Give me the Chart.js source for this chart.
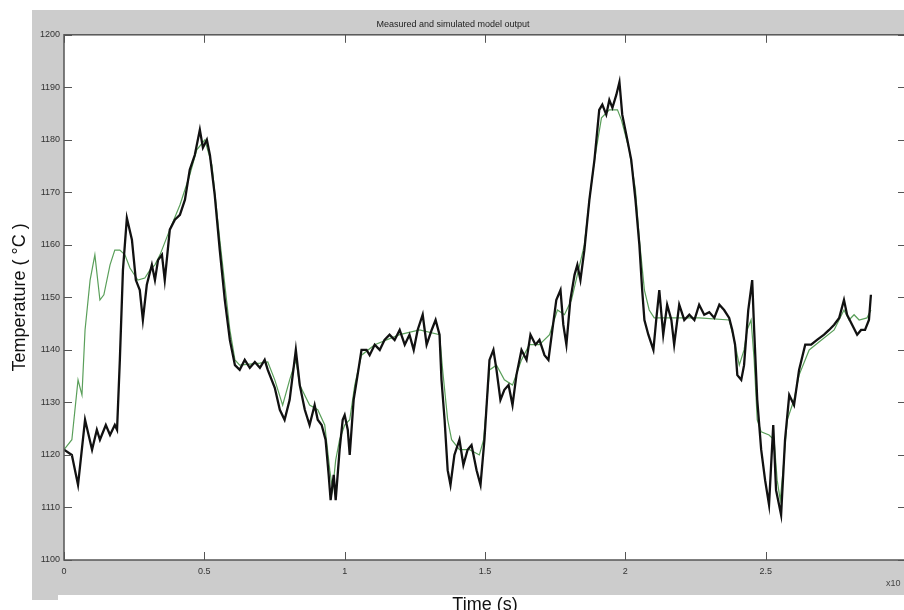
<!DOCTYPE html>
<html>
<head>
<meta charset="utf-8">
<script src="https://cdn.jsdelivr.net/npm/chart.js@4/dist/chart.umd.min.js"></script>
<style>
html,body{margin:0;padding:0;background:#fff;overflow:hidden;}
#wrap{position:relative;width:904px;height:610px;overflow:hidden;}
#c{position:absolute;left:0;top:0;}
</style>
</head>
<body>
<div id="wrap"><canvas id="c" width="912" height="620" style="width:912px;height:620px"></canvas></div>
<script>
// Time axis values are in units of 10^4 s
const measuredTime = [0, 0.028, 0.050, 0.075, 0.100, 0.117, 0.128, 0.149, 0.164, 0.181, 0.189, 0.199, 0.210, 0.224, 0.242, 0.256, 0.270, 0.281, 0.295, 0.313, 0.324, 0.335, 0.349, 0.359, 0.377, 0.395, 0.413, 0.431, 0.448, 0.466, 0.484, 0.495, 0.509, 0.520, 0.537, 0.555, 0.573, 0.591, 0.609, 0.626, 0.644, 0.662, 0.680, 0.698, 0.715, 0.726, 0.751, 0.769, 0.786, 0.804, 0.826, 0.840, 0.858, 0.875, 0.893, 0.904, 0.918, 0.932, 0.943, 0.950, 0.961, 0.968, 0.982, 0.993, 1.000, 1.011, 1.018, 1.032, 1.046, 1.060, 1.078, 1.089, 1.107, 1.125, 1.142, 1.160, 1.178, 1.196, 1.214, 1.231, 1.246, 1.260, 1.278, 1.292, 1.310, 1.324, 1.338, 1.345, 1.356, 1.367, 1.377, 1.391, 1.409, 1.423, 1.438, 1.452, 1.470, 1.484, 1.498, 1.516, 1.530, 1.541, 1.555, 1.569, 1.584, 1.598, 1.612, 1.630, 1.648, 1.662, 1.680, 1.694, 1.712, 1.726, 1.740, 1.754, 1.769, 1.779, 1.790, 1.804, 1.819, 1.829, 1.840, 1.854, 1.872, 1.890, 1.907, 1.918, 1.932, 1.943, 1.954, 1.968, 1.979, 1.989, 2.007, 2.021, 2.036, 2.050, 2.060, 2.068, 2.082, 2.100, 2.110, 2.121, 2.135, 2.149, 2.164, 2.174, 2.192, 2.210, 2.228, 2.246, 2.263, 2.281, 2.299, 2.317, 2.335, 2.352, 2.370, 2.381, 2.391, 2.399, 2.413, 2.423, 2.438, 2.452, 2.459, 2.470, 2.484, 2.498, 2.512, 2.527, 2.537, 2.555, 2.569, 2.584, 2.601, 2.619, 2.641, 2.662, 2.683, 2.708, 2.726, 2.744, 2.762, 2.779, 2.790, 2.808, 2.826, 2.840, 2.854, 2.868, 2.875];
const measuredTemp = [1121.0, 1120.0, 1114.3, 1126.7, 1121.0, 1124.8, 1122.9, 1125.7, 1123.8, 1125.7, 1124.8, 1138.1, 1155.2, 1165.1, 1161.0, 1153.3, 1151.4, 1145.7, 1152.4, 1156.2, 1153.3, 1157.1, 1158.1, 1153.3, 1162.9, 1164.8, 1165.7, 1168.6, 1174.3, 1177.1, 1181.9, 1178.5, 1180.0, 1177.1, 1169.5, 1159.0, 1149.5, 1141.9, 1137.1, 1136.2, 1138.1, 1136.6, 1137.7, 1136.6, 1138.1, 1136.2, 1132.8, 1128.6, 1126.7, 1130.5, 1140.0, 1133.3, 1128.6, 1125.7, 1129.5, 1126.7, 1125.7, 1122.9, 1116.2, 1111.4, 1116.2, 1111.4, 1121.0, 1126.7, 1127.6, 1124.8, 1120.0, 1130.5, 1135.2, 1140.0, 1140.0, 1139.0, 1141.0, 1140.0, 1141.9, 1142.9, 1141.9, 1143.8, 1141.0, 1142.9, 1140.0, 1143.8, 1146.7, 1141.0, 1143.8, 1145.7, 1142.9, 1134.3, 1126.7, 1117.1, 1114.3, 1120.0, 1122.9, 1118.1, 1121.0, 1121.9, 1117.1, 1114.3, 1122.9, 1138.1, 1140.0, 1136.2, 1130.5, 1132.4, 1133.3, 1129.5, 1135.2, 1140.0, 1138.1, 1142.9, 1141.0, 1141.9, 1139.0, 1138.1, 1143.8, 1149.5, 1151.4, 1144.8, 1141.0, 1149.5, 1154.3, 1156.2, 1153.3, 1159.0, 1168.6, 1176.2, 1185.7, 1186.7, 1184.8, 1187.6, 1186.1, 1188.6, 1191.0, 1184.8, 1180.0, 1176.2, 1168.6, 1160.0, 1151.4, 1145.7, 1142.9, 1140.0, 1145.7, 1151.4, 1142.9, 1148.6, 1145.7, 1141.0, 1148.6, 1145.7, 1146.7, 1145.7, 1148.6, 1146.7, 1147.2, 1146.1, 1148.6, 1147.6, 1146.1, 1143.8, 1141.0, 1135.2, 1134.3, 1137.1, 1147.6, 1153.3, 1143.8, 1130.5, 1121.0, 1115.2, 1110.5, 1125.7, 1113.3, 1108.6, 1122.9, 1131.4, 1129.5, 1136.2, 1141.0, 1141.0, 1141.9, 1142.9, 1143.8, 1144.8, 1146.1, 1149.5, 1146.7, 1144.8, 1142.9, 1143.8, 1143.8, 1145.7, 1150.5];

const simulatedTime = [0, 0.028, 0.050, 0.064, 0.075, 0.093, 0.110, 0.128, 0.142, 0.164, 0.181, 0.199, 0.217, 0.235, 0.263, 0.288, 0.306, 0.324, 0.342, 0.377, 0.413, 0.448, 0.473, 0.502, 0.527, 0.555, 0.591, 0.609, 0.626, 0.698, 0.726, 0.751, 0.779, 0.804, 0.826, 0.840, 0.875, 0.904, 0.929, 0.947, 0.957, 0.968, 0.982, 1.000, 1.018, 1.036, 1.060, 1.107, 1.196, 1.267, 1.338, 1.349, 1.367, 1.381, 1.409, 1.445, 1.480, 1.495, 1.516, 1.541, 1.569, 1.598, 1.630, 1.658, 1.694, 1.730, 1.758, 1.783, 1.808, 1.829, 1.854, 1.872, 1.890, 1.915, 1.943, 1.972, 1.986, 2.014, 2.036, 2.050, 2.068, 2.085, 2.103, 2.157, 2.263, 2.370, 2.388, 2.406, 2.423, 2.434, 2.448, 2.459, 2.470, 2.484, 2.512, 2.530, 2.541, 2.552, 2.562, 2.577, 2.601, 2.619, 2.655, 2.690, 2.744, 2.779, 2.797, 2.815, 2.833, 2.861, 2.875];
const simulatedTemp = [1121.0, 1122.9, 1134.3, 1131.4, 1143.8, 1153.3, 1158.1, 1149.5, 1150.5, 1156.2, 1159.0, 1159.0, 1158.1, 1155.6, 1153.3, 1153.7, 1155.2, 1156.2, 1158.1, 1162.9, 1167.6, 1173.3, 1178.1, 1180.0, 1175.2, 1161.0, 1143.8, 1138.1, 1137.1, 1137.5, 1137.7, 1134.3, 1129.5, 1134.3, 1138.1, 1133.3, 1129.5, 1128.6, 1125.7, 1117.1, 1113.3, 1119.0, 1122.9, 1125.7, 1126.7, 1133.3, 1139.0, 1141.0, 1142.9, 1143.8, 1142.9, 1136.2, 1126.7, 1122.9, 1121.0, 1121.0, 1120.0, 1122.9, 1136.2, 1137.1, 1134.3, 1133.3, 1138.1, 1141.0, 1141.0, 1142.9, 1147.6, 1146.7, 1149.5, 1154.3, 1160.0, 1168.6, 1176.2, 1184.2, 1185.7, 1185.7, 1183.8, 1178.1, 1170.5, 1161.0, 1151.4, 1147.6, 1146.1, 1146.1, 1146.1, 1145.7, 1141.9, 1137.1, 1140.0, 1143.8, 1145.7, 1138.1, 1126.7, 1124.4, 1123.8, 1122.9, 1115.2, 1111.4, 1117.1, 1126.7, 1130.5, 1135.2, 1140.0, 1141.5, 1143.8, 1147.6, 1145.7, 1146.7, 1145.7, 1146.1, 1147.6];

const xTicks = [0, 0.5, 1, 1.5, 2, 2.5, 3];
const yTicks = [1100, 1110, 1120, 1130, 1140, 1150, 1160, 1170, 1180, 1190, 1200];

const toPts = (xs, ys) => xs.map((x, i) => ({x: x, y: ys[i]}));

const figurePlugin = {
  id: 'figure',
  beforeDraw(chart) {
    const ctx = chart.ctx, a = chart.chartArea;
    ctx.save();
    ctx.fillStyle = '#ffffff';
    ctx.fillRect(0, 0, chart.width, chart.height);
    ctx.fillStyle = '#cccccc';
    ctx.fillRect(32, 10, chart.width - 32, 585);
    ctx.fillRect(32, 590, 26, 10);
    ctx.fillStyle = '#ffffff';
    ctx.fillRect(a.left, a.top, a.right - a.left, a.bottom - a.top);
    ctx.restore();
  },
  afterDatasetsDraw(chart) {
    const ctx = chart.ctx, a = chart.chartArea;
    const xs = chart.scales.x, ys = chart.scales.y;
    ctx.save();
    ctx.strokeStyle = '#555555';
    ctx.lineWidth = 1.5;
    ctx.strokeRect(a.left, a.top, a.right - a.left, a.bottom - a.top);
    ctx.lineWidth = 1;
    ctx.beginPath();
    const L = 8;
    xTicks.forEach(v => {
      const px = Math.round(xs.getPixelForValue(v)) + 0.5;
      ctx.moveTo(px, a.bottom); ctx.lineTo(px, a.bottom - L);
      ctx.moveTo(px, a.top); ctx.lineTo(px, a.top + L);
    });
    yTicks.forEach(v => {
      const py = Math.round(ys.getPixelForValue(v)) + 0.5;
      ctx.moveTo(a.left, py); ctx.lineTo(a.left + L, py);
      ctx.moveTo(a.right, py); ctx.lineTo(a.right - L, py);
    });
    ctx.stroke();
    ctx.fillStyle = '#444444';
    ctx.font = '9px "Liberation Sans", Arial, sans-serif';
    ctx.textAlign = 'left';
    ctx.textBaseline = 'middle';
    ctx.fillText('x10', 886, 584);
    ctx.restore();
  }
};

new Chart(document.getElementById('c'), {
  type: 'scatter',
  data: {
    datasets: [
      {
        label: 'Simulated',
        data: toPts(simulatedTime, simulatedTemp),
        showLine: true,
        borderColor: '#5a9f5a',
        borderWidth: 1.2,
        pointRadius: 0,
        tension: 0,
        order: 2
      },
      {
        label: 'Measured',
        data: toPts(measuredTime, measuredTemp),
        showLine: true,
        borderColor: '#111111',
        borderWidth: 2.3,
        pointRadius: 0,
        tension: 0,
        order: 1
      }
    ]
  },
  options: {
    responsive: false,
    animation: false,
    devicePixelRatio: 1,
    layout: {padding: {left: 0, right: 6, top: 0, bottom: 0}},
    plugins: {
      legend: {display: false},
      tooltip: {enabled: false},
      title: {
        display: true,
        text: 'Measured and simulated model output',
        color: '#222222',
        font: {size: 9, family: '"Liberation Sans", Arial, sans-serif', weight: 'normal', lineHeight: 1.2},
        padding: {top: 19, bottom: 5}
      }
    },
    scales: {
      x: {
        type: 'linear',
        min: 0, max: 3,
        afterFit(s) { s.height = 60; },
        afterBuildTicks(s) { s.ticks = xTicks.map(v => ({value: v})); },
        grid: {display: false, drawTicks: false},
        border: {display: false},
        ticks: {
          autoSkip: false, maxRotation: 0, padding: 6,
          color: '#333333',
          font: {size: 9, family: '"Liberation Sans", Arial, sans-serif'},
          callback: v => (v >= 3 ? '' : String(v))
        },
        title: {
          display: true,
          text: 'Time (s)',
          color: '#111111',
          font: {size: 18, family: '"Liberation Sans", Arial, sans-serif', lineHeight: 1.2},
          padding: {top: 0, bottom: 4}
        }
      },
      y: {
        type: 'linear',
        min: 1100, max: 1200,
        afterFit(s) { s.width = 64; },
        afterBuildTicks(s) { s.ticks = yTicks.map(v => ({value: v})); },
        grid: {display: false, drawTicks: false},
        border: {display: false},
        ticks: {
          padding: 4,
          color: '#333333',
          font: {size: 9, family: '"Liberation Sans", Arial, sans-serif'},
          callback: v => String(v)
        },
        title: {
          display: true,
          text: 'Temperature ( °C )',
          color: '#111111',
          font: {size: 18, family: '"Liberation Sans", Arial, sans-serif', lineHeight: 1.2},
          padding: {top: 9, bottom: 0}
        }
      }
    }
  },
  plugins: [figurePlugin]
});
</script>
</body>
</html>
